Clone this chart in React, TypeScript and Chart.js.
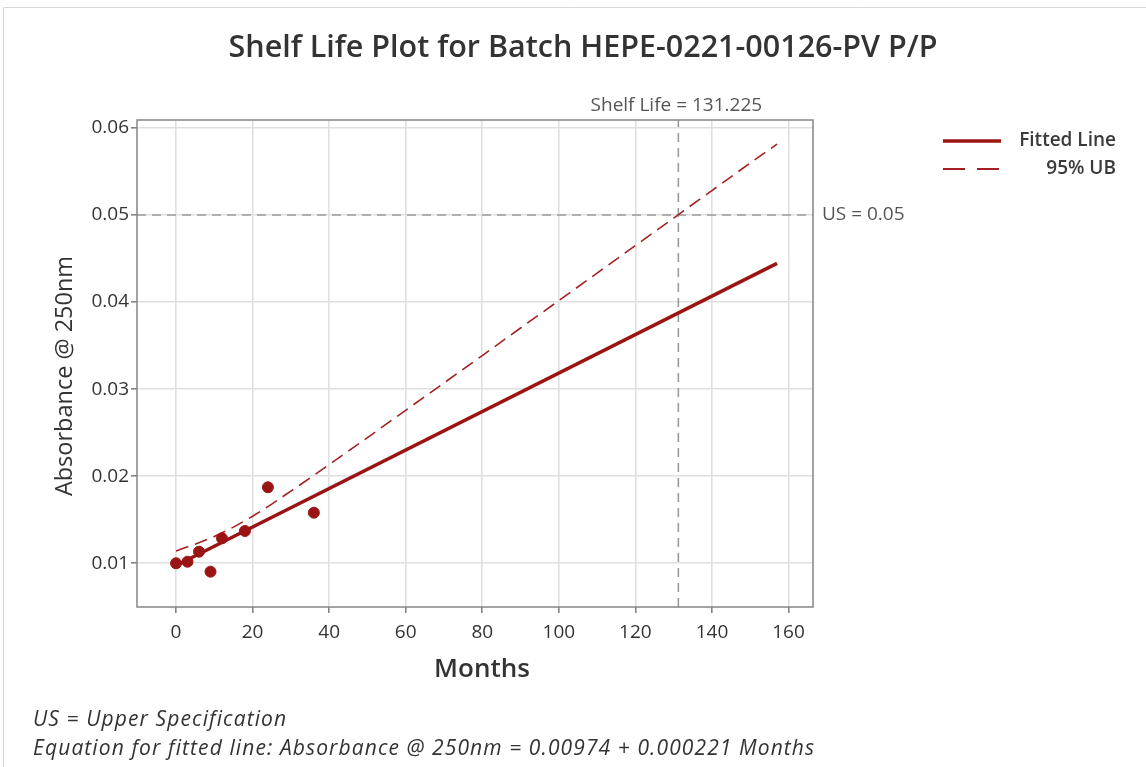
import React, { useEffect, useRef } from "react";
import { Chart, registerables } from "chart.js";

Chart.register(...registerables);

const months = [0, 3, 6, 9, 12, 18, 24, 36];
const absorbance = [0.01, 0.01018, 0.01133, 0.00904, 0.01287, 0.01371, 0.01873, 0.01581];

const fitMonths = [0, 157];
const fitValues = [0.00974, 0.04444];

const ubMonths = [0, 5, 10, 15, 20, 25, 30, 40, 50, 60, 70, 80, 90, 100, 110, 120, 130, 140, 150, 157];
const ubValues = [0.01142, 0.0122, 0.01307, 0.01415, 0.0154, 0.0168, 0.01828, 0.02133, 0.02444, 0.02757, 0.03071, 0.03386, 0.03702, 0.04017, 0.04333, 0.04649, 0.04965, 0.05281, 0.05597, 0.05815];

const xTicks = [0, 20, 40, 60, 80, 100, 120, 140, 160];
const yTicks = [0.01, 0.02, 0.03, 0.04, 0.05, 0.06];

const upperSpec = 0.05;
const shelfLife = 131.225;

const X_MIN = -10.2;
const X_MAX = 166.4;
const Y_MIN = 0.00498;
const Y_MAX = 0.06091;

const FONT = "'Open Sans', 'Noto Sans', sans-serif";
const RED = "#9a1414";

const overlay = {
  id: "overlay",
  afterDraw(chart: any) {
    const { ctx, chartArea } = chart;
    const { left, right, top, bottom } = chartArea;
    const x = chart.scales.x;
    const y = chart.scales.y;
    ctx.save();
    // plot frame
    ctx.strokeStyle = "#858585";
    ctx.lineWidth = 1.5;
    ctx.setLineDash([]);
    ctx.strokeRect(left, top, right - left, bottom - top);

    // title
    ctx.fillStyle = "#333333";
    ctx.font = `600 30.5px ${FONT}`;
    ctx.textAlign = "center";
    ctx.textBaseline = "middle";
    ctx.fillText("Shelf Life Plot for Batch HEPE-0221-00126-PV P/P", 583, 48);

    // shelf life label
    ctx.fillStyle = "#555555";
    ctx.font = `19px ${FONT}`;
    ctx.fillText(`Shelf Life = ${shelfLife}`, x.getPixelForValue(shelfLife) - 2, 106);

    // US label
    ctx.font = `19px ${FONT}`;
    ctx.textAlign = "left";
    ctx.fillText(`US = ${upperSpec}`, right + 9, y.getPixelForValue(upperSpec));

    // axis titles
    ctx.fillStyle = "#333333";
    ctx.font = `600 26px ${FONT}`;
    ctx.textAlign = "center";
    ctx.fillText("Months", 482, 670);
    ctx.save();
    ctx.translate(65, 376);
    ctx.rotate(-Math.PI / 2);
    ctx.font = `500 23.5px ${FONT}`;
    ctx.fillText("Absorbance @ 250nm", 0, 0);
    ctx.restore();

    // legend
    ctx.strokeStyle = RED;
    ctx.lineWidth = 3.5;
    ctx.beginPath();
    ctx.moveTo(943, 141);
    ctx.lineTo(1001, 141);
    ctx.stroke();
    ctx.lineWidth = 2;
    ctx.strokeStyle = "#a52020";
    ctx.setLineDash([22, 12]);
    ctx.beginPath();
    ctx.moveTo(943, 169);
    ctx.lineTo(1001, 169);
    ctx.stroke();
    ctx.setLineDash([]);
    ctx.fillStyle = "#3a3a3a";
    ctx.font = `600 19px ${FONT}`;
    ctx.textAlign = "right";
    ctx.fillText("Fitted Line", 1116, 141);
    ctx.fillText("95% UB", 1116, 169);

    // footnotes
    ctx.textAlign = "left";
    ctx.fillStyle = "#333333";
    ctx.font = `italic 21px ${FONT}`;
    (ctx as any).letterSpacing = "1.1px";
    ctx.fillText("US = Upper Specification", 33, 720);
    ctx.fillText("Equation for fitted line: Absorbance @ 250nm = 0.00974 + 0.000221 Months", 33, 749);
    (ctx as any).letterSpacing = "0px";

    // outer frame
    ctx.strokeStyle = "#d8d8d8";
    ctx.lineWidth = 1;
    ctx.beginPath();
    ctx.moveTo(3.5, 767);
    ctx.lineTo(3.5, 7.5);
    ctx.lineTo(1146, 7.5);
    ctx.stroke();
    ctx.restore();
  },
};

export default function App() {
  const ref = useRef<HTMLCanvasElement | null>(null);

  useEffect(() => {
    if (!ref.current) return;
    const chart = new Chart(ref.current, {
      type: "scatter",
      data: {
        datasets: [
          {
            label: "Data",
            data: months.map((m, i) => ({ x: m, y: absorbance[i] })),
            backgroundColor: RED,
            borderColor: RED,
            pointRadius: 5.5,
            pointHoverRadius: 5.5,
            order: 0,
          },
          {
            label: "Fitted Line",
            data: fitMonths.map((m, i) => ({ x: m, y: fitValues[i] })),
            showLine: true,
            borderColor: RED,
            borderWidth: 3.5,
            pointRadius: 0,
            order: 1,
          },
          {
            label: "95% UB",
            data: ubMonths.map((m, i) => ({ x: m, y: ubValues[i] })),
            showLine: true,
            borderColor: "#a52020",
            borderWidth: 1.6,
            borderDash: [13, 7],
            pointRadius: 0,
            tension: 0,
            order: 2,
          },
          {
            label: "US",
            data: [
              { x: X_MIN, y: upperSpec },
              { x: X_MAX, y: upperSpec },
            ],
            showLine: true,
            borderColor: "#9a9a9a",
            borderWidth: 1.6,
            borderDash: [9, 6],
            pointRadius: 0,
            order: 3,
          },
          {
            label: "Shelf Life",
            data: [
              { x: shelfLife, y: Y_MIN },
              { x: shelfLife, y: Y_MAX },
            ],
            showLine: true,
            borderColor: "#9a9a9a",
            borderWidth: 1.6,
            borderDash: [9, 6],
            pointRadius: 0,
            order: 4,
          },
        ],
      },
      options: {
        animation: false,
        responsive: false,
        maintainAspectRatio: false,
        layout: { padding: { left: 0, top: 120, right: 333, bottom: 100 } },
        plugins: {
          legend: { display: false },
          title: { display: false },
          tooltip: { enabled: false },
        },
        scales: {
          x: {
            type: "linear",
            min: X_MIN,
            max: X_MAX,
            afterBuildTicks: (scale: any) => {
              scale.ticks = xTicks.map((v) => ({ value: v }));
            },
            afterFit: (scale: any) => {
              scale.height = 60;
            },
            grid: {
              color: "#e0e0e0",
              lineWidth: 1.6,
              tickColor: "#858585",
              tickLength: 6,
              drawTicks: true,
            },
            border: { display: false },
            ticks: {
              color: "#333333",
              font: { family: FONT, size: 19 },
              padding: 8,
              maxRotation: 0,
              callback: (v: any) => String(v),
            },
          },
          y: {
            type: "linear",
            min: Y_MIN,
            max: Y_MAX,
            afterBuildTicks: (scale: any) => {
              scale.ticks = yTicks.map((v) => ({ value: v }));
            },
            afterFit: (scale: any) => {
              scale.width = 137;
            },
            grid: {
              color: "#e0e0e0",
              lineWidth: 1.6,
              tickColor: "#858585",
              tickLength: 6,
              drawTicks: true,
            },
            border: { display: false },
            ticks: {
              color: "#333333",
              font: { family: FONT, size: 19 },
              padding: 2,
              callback: (v: any) => Number(v).toFixed(2),
            },
          },
        },
      },
      plugins: [overlay],
    });
    return () => chart.destroy();
  }, []);

  return (
    <div style={{ position: "fixed", left: 0, top: 0, width: 1146, height: 767, background: "#ffffff" }}>
      <canvas ref={ref} width={1146} height={767} style={{ display: "block", width: 1146, height: 767 }} />
    </div>
  );
}
